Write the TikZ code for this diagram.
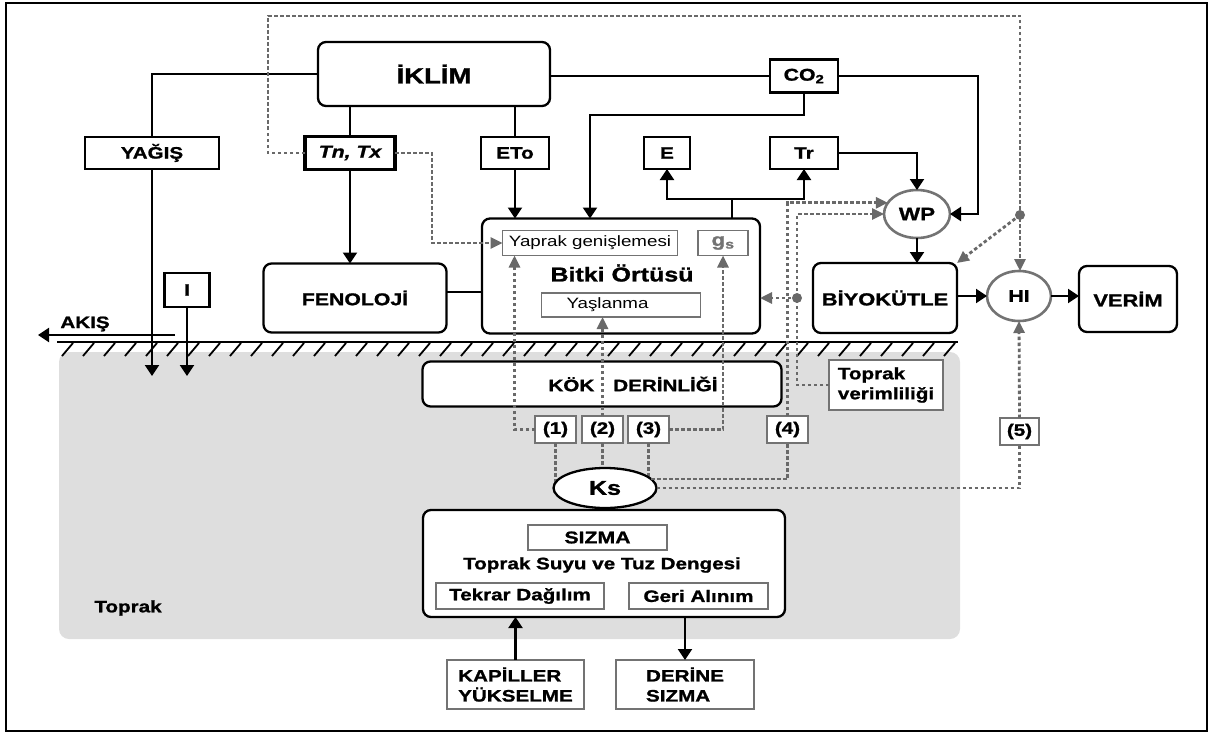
\documentclass[tikz,border=0pt]{standalone}
\usepackage{fontspec}
\setmainfont{Liberation Sans}[FakeStretch=1.25, BoldFeatures={FakeBold=1.2}, BoldItalicFeatures={FakeBold=1.2}]
\usepackage{xcolor}
\usetikzlibrary{arrows.meta,shapes.geometric}
\definecolor{fbgray}{RGB}{105,105,105}
\definecolor{boxgray}{RGB}{115,115,115}
\definecolor{soilgray}{RGB}{222,222,222}
\newcommand{\fsz}[2][20]{\fontsize{#2}{#1}\selectfont}

\begin{document}
\begin{tikzpicture}[x=1pt,y=-1pt,
    every node/.style={inner sep=0pt, outer sep=0pt},
    boxsize/.style 2 args={minimum width=#1pt, minimum height=#2pt},
    line/.style={line width=2.3pt},
    arr/.style={line, -{Triangle[width=14pt,length=11pt]}},
    fb/.style={fbgray, line width=2.8pt, dash pattern=on 3.5pt off 2.5pt},
    fbarr/.style={fb, -{Triangle[width=11pt,length=12pt]}},
    box/.style={draw, line width=2.3pt, fill=white, font=\fsz{16.5}\bfseries},
    rbox/.style={box, rounded corners=8pt},
    gbox/.style={draw=boxgray, line width=2.6pt, fill=white, font=\fsz{16.5}\bfseries},
    tbox/.style={draw=boxgray, line width=1.6pt, fill=white, font=\fsz{16.5}\bfseries},
    oval/.style={ellipse, draw=boxgray, line width=2.6pt, fill=white, font=\fsz{18}\bfseries}]
\useasboundingbox (0,0) rectangle (1209,733);
\draw[line width=2pt] (6,3) rectangle (1207,731);

% Soil
\fill[soilgray, rounded corners=10pt] (59,352) rectangle (960,639);
\draw[line width=2.3pt] (57,342) -- (958,342);
\foreach \hx in {62,83,...,945}
    \draw[line width=1.8pt] (\hx,356) -- ++(11,-13);
\node[font=\fsz{16.5}\bfseries] (toprak) at (128,608) {Toprak};

% Climate boxes
\node[rbox, boxsize={232}{64}, font=\fsz{22}\bfseries] (iklim) at (434,74) {İKLİM};
\node[box, boxsize={134}{32}] (yagis) at (152,153) {YAĞIŞ};
\node[box, line width=3.5pt, boxsize={90}{33}, font=\fsz{17}\bfseries\itshape] (tntx) at (350,153) {Tn, Tx};
\node[box, boxsize={68}{32}] (eto) at (515,153) {ETo};
\node[box, boxsize={68}{33}, font=\fsz{17}\bfseries] (co2) at (804,76) {CO\textsubscript{2}};
\node[box, boxsize={46}{32}] (ebox) at (667,153) {E};
\node[box, boxsize={68}{32}] (tr) at (804,153) {Tr};
\node[box, boxsize={45}{34}] (ibox) at (187,290) {I};
\node[font=\fsz{16.5}\bfseries] (akis) at (85,324) {AKIŞ};

% Crop boxes
\node[rbox, boxsize={183}{69}, font=\fsz{17}\bfseries] (feno) at (355,298) {FENOLOJİ};
\node[rbox, boxsize={278}{115}] (bitki) at (621,276) {};
\node[font=\fsz{20}\bfseries] (bitkilbl) at (622,273) {Bitki Örtüsü};
\node[tbox, boxsize={175}{25}, font=\fsz{15}] (yaprak) at (590,243) {Yaprak genişlemesi};
\node[tbox, boxsize={50}{25}, text=boxgray, font=\fsz{18}\bfseries] (gs) at (723,243) {g\textsubscript{s}};
\node[tbox, boxsize={159}{24}, font=\fsz{15}] (yaslanma) at (621,305) {Yaşlanma\hspace*{27pt}};
\node[oval, boxsize={66}{48}] (wp) at (917,214) {WP};
\node[rbox, boxsize={144}{70}, font=\fsz{17.5}\bfseries] (biyo) at (885,298) {BİYOKÜTLE};
\node[oval, boxsize={64}{50}, font=\fsz{17}\bfseries] (hi) at (1019,296) {HI};
\node[rbox, boxsize={98}{66}, font=\fsz{17.5}\bfseries] (verim) at (1128,299) {VERİM};

% Root zone
\node[rbox, boxsize={359}{45}] (kok) at (602,384) {\hspace*{62pt}KÖK\hspace{19pt}DERİNLİĞİ};
\node[gbox, boxsize={114}{50}, align=left] (topver) at (886,385) {Toprak\\verimliliği};
\node[gbox, boxsize={41}{27}] (n1) at (555.5,429.5) {(1)};
\node[gbox, boxsize={41}{27}] (n2) at (602.5,429.5) {(2)};
\node[gbox, boxsize={41}{27}] (n3) at (648.5,429.5) {(3)};
\node[gbox, boxsize={41}{27}] (n4) at (787.5,429.5) {(4)};
\node[gbox, boxsize={39}{27}] (n5) at (1019.5,431.5) {(5)};

% Soil water balance
\node[rbox, boxsize={362}{107}] (suyu) at (604,563.5) {};
\node[tbox, boxsize={139}{25}, font=\fsz{17}\bfseries] (sizma) at (597.5,537.5) {SIZMA};
\node[font=\fsz{16.5}\bfseries] (denge) at (602,565) {Toprak Suyu ve Tuz Dengesi};
\node[tbox, boxsize={168}{26}] (tekrar) at (520,596) {Tekrar Dağılım};
\node[tbox, boxsize={139}{26}] (geri) at (698.5,596) {Geri Alınım};
\node[tbox, boxsize={137}{49}, align=left] (kapiller) at (515.5,684.5) {KAPİLLER\\YÜKSELME};
\node[tbox, boxsize={138}{49}, align=left] (derine) at (685,684.5) {DERİNE\\SIZMA};

% Arrows
\coordinate (yagisin) at (152,376);
\coordinate (iin) at (187,376);
\coordinate (akisS) at (175,335);
\coordinate (akisE) at (38,335);
\coordinate (co2k) at (590,115);
\coordinate (bsplit) at (732,199);
\draw[line] (iklim.west) -| (yagis.north);
\draw[arr] (yagis.south) -- (yagisin);
\draw[arr] (ibox.south) -- (iin);
\draw[arr] (akisS) -- (akisE);
\draw[line] (iklim.south -| tntx.north) -- (tntx.north);
\draw[arr] (tntx.south) -- (tntx.south |- feno.north);
\draw[line] (iklim.south -| eto.north) -- (eto.north);
\draw[arr] (eto.south) -- (eto.south |- bitki.north);
\draw[line] (iklim.east |- co2.west) -- (co2.west);
\draw[arr] (co2.east) -| ([xshift=28pt]wp.east) -- (wp.east);
\draw[arr] (co2.south) |- (co2k) -- (co2k |- bitki.north);
\draw[line] (bitki.north -| bsplit) -- (bsplit);
\draw[arr] (bsplit) -| (ebox.south);
\draw[arr] (bsplit) -| (tr.south);
\draw[arr] (tr.east) -| (wp.north);
\draw[arr] (wp.south) -- (wp.south |- biyo.north);
\draw[arr] (biyo.east |- hi.west) -- (hi.west);
\draw[arr] (hi.east) -- (hi.east -| verim.west);
\draw[line] ([yshift=6pt]feno.east) -- ([yshift=6pt]feno.east -| bitki.west);
\draw[arr] (kapiller.north) -- (kapiller.north |- suyu.south);
\draw[arr] (suyu.south -| derine.north) -- (derine.north);

% Feedbacks
\coordinate (fbL) at (268,16);
\coordinate (fbR) at (1020,16);
\coordinate (hidot) at (1020,215);
\coordinate (tnk) at (432,243);
\coordinate (tvdot) at (797,298);
\coordinate (ksc) at (605,488);
\draw[fbarr] (tntx.west) -| (fbL) -- (fbR) -- (fbR |- hi.north);
\fill[fbgray] (hidot) circle (5pt);
\draw[fbarr] (hidot) -- (biyo.north east);
\draw[fbarr] (tntx.east) -| (tnk) -- (yaprak.west);
\draw[fbarr] (n1.west) -| ([xshift=12pt]yaprak.south west);
\draw[fbarr] (n2.north) -- (n2.north |- yaslanma.south);
\draw[fbarr] (n3.east) -| (gs.south);
\draw[fbarr] (topver.west) -| (tvdot) |- (wp.west);
\fill[fbgray] (tvdot) circle (5pt);
\draw[fbarr] (tvdot) -- (tvdot -| bitki.east);
\draw[fb] (n1.south) -- (n1.south |- ksc);
\draw[fb] (n2.south) -- (n2.south |- ksc);
\draw[fb] (n3.south) -- (n3.south |- ksc);
\node[ellipse, draw, line width=2.3pt, fill=white, boxsize={103}{40}, font=\fsz{20}\bfseries] (ks) at (ksc) {Ks};
\draw[fb] (ks.11) -| (n4.south);
\draw[fbarr] (n4.north) |- (wp.159);
\draw[fb] (ks.east) -| (n5.south);
\draw[fbarr] (n5.north) -- (hi.south);
\end{tikzpicture}
\end{document}
